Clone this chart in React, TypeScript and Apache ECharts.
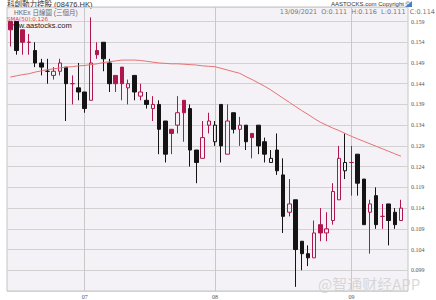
import React, { useEffect, useRef } from 'react';
import * as echarts from 'echarts';

const dates = [
  '2021-06-15', '2021-06-16', '2021-06-17', '2021-06-18', '2021-06-21', '2021-06-22', '2021-06-23', '2021-06-24', '2021-06-25', '2021-06-28', '2021-06-29', '2021-06-30',
  '2021-07-02', '2021-07-05', '2021-07-06', '2021-07-07', '2021-07-08', '2021-07-09', '2021-07-12', '2021-07-13', '2021-07-14', '2021-07-15', '2021-07-16', '2021-07-19', '2021-07-20', '2021-07-21', '2021-07-22', '2021-07-23', '2021-07-26', '2021-07-27', '2021-07-28', '2021-07-29', '2021-07-30',
  '2021-08-02', '2021-08-03', '2021-08-04', '2021-08-05', '2021-08-06', '2021-08-09', '2021-08-10', '2021-08-11', '2021-08-12', '2021-08-13', '2021-08-16', '2021-08-17', '2021-08-18', '2021-08-19', '2021-08-20', '2021-08-23', '2021-08-24', '2021-08-25', '2021-08-26', '2021-08-27', '2021-08-30', '2021-08-31',
  '2021-09-01', '2021-09-02', '2021-09-03', '2021-09-06', '2021-09-07', '2021-09-08', '2021-09-09', '2021-09-10', '2021-09-13',
];

const openP = [
  0.159, 0.159, 0.157, 0.154, 0.152, 0.149, 0.147, 0.146, 0.147, 0.148, 0.144, 0.143,
  0.142, 0.140, 0.152, 0.154, 0.149, 0.146, 0.148, 0.143, 0.146, 0.141, 0.140, 0.138, 0.139, 0.135, 0.133, 0.134, 0.140, 0.138, 0.128, 0.126, 0.134,
  0.130, 0.139, 0.127, 0.137, 0.133, 0.134, 0.132, 0.134, 0.130, 0.125, 0.128, 0.122, 0.113, 0.116, 0.106, 0.103, 0.102, 0.110, 0.108, 0.111, 0.116, 0.123,
  0.125, 0.127, 0.121, 0.113, 0.117, 0.112, 0.115, 0.113, 0.111,
];
const closeP = [
  0.157, 0.152, 0.154, 0.154, 0.149, 0.148, 0.147, 0.147, 0.149, 0.144, 0.144, 0.142,
  0.138, 0.149, 0.151, 0.150, 0.144, 0.144, 0.144, 0.144, 0.142, 0.142, 0.139, 0.139, 0.133, 0.127, 0.132, 0.137, 0.137, 0.128, 0.125, 0.131, 0.135,
  0.134, 0.129, 0.135, 0.133, 0.134, 0.130, 0.131, 0.129, 0.127, 0.126, 0.123, 0.112, 0.115, 0.104, 0.103, 0.102, 0.108, 0.108, 0.109, 0.118, 0.126, 0.125,
  0.125, 0.120, 0.110, 0.115, 0.110, 0.112, 0.111, 0.110, 0.114,
];
const lowP = [
  0.153, 0.151, 0.151, 0.151, 0.148, 0.146, 0.144, 0.145, 0.146, 0.135, 0.139, 0.140,
  0.137, 0.140, 0.150, 0.147, 0.142, 0.142, 0.140, 0.139, 0.140, 0.140, 0.138, 0.135, 0.127, 0.125, 0.127, 0.132, 0.130, 0.124, 0.120, 0.126, 0.132,
  0.129, 0.125, 0.127, 0.132, 0.129, 0.128, 0.126, 0.127, 0.125, 0.125, 0.122, 0.108, 0.112, 0.095, 0.099, 0.100, 0.102, 0.106, 0.106, 0.110, 0.116, 0.121,
  0.117, 0.117, 0.110, 0.103, 0.109, 0.109, 0.105, 0.109, 0.111,
];
const highP = [
  0.159, 0.159, 0.157, 0.156, 0.154, 0.150, 0.150, 0.148, 0.150, 0.148, 0.146, 0.149,
  0.142, 0.160, 0.154, 0.154, 0.150, 0.146, 0.148, 0.145, 0.146, 0.144, 0.142, 0.141, 0.140, 0.135, 0.133, 0.141, 0.140, 0.139, 0.128, 0.135, 0.137,
  0.135, 0.139, 0.139, 0.137, 0.136, 0.134, 0.132, 0.134, 0.131, 0.128, 0.132, 0.126, 0.121, 0.116, 0.106, 0.105, 0.111, 0.114, 0.113, 0.120, 0.129, 0.132,
  0.129, 0.127, 0.121, 0.116, 0.119, 0.115, 0.115, 0.114, 0.116,
];
const sma50 = [
  0.1456, 0.1459, 0.1462, 0.1464, 0.1468, 0.1471, 0.1474, 0.1476, 0.1478, 0.1480, 0.1481, 0.1483,
  0.1484, 0.1486, 0.1488, 0.1491, 0.1493, 0.1495, 0.1497, 0.1497, 0.1497, 0.1496, 0.1494, 0.1492, 0.1490, 0.1489, 0.1488, 0.1488, 0.1487, 0.1486, 0.1485, 0.1483, 0.1482,
  0.1481, 0.1477, 0.1473, 0.1469, 0.1465, 0.1457, 0.1450, 0.1442, 0.1434, 0.1425, 0.1415, 0.1405, 0.1395, 0.1385, 0.1375, 0.1366, 0.1356, 0.1347, 0.1340, 0.1333, 0.1327, 0.1320,
  0.1313, 0.1307, 0.1301, 0.1295, 0.1289, 0.1283, 0.1277, 0.1271, 0.1265,
];
const yTickLabels = ['0.099', '0.104', '0.109', '0.114', '0.119', '0.124', '0.129', '0.134', '0.139', '0.144', '0.149', '0.154', '0.159'];
const monthLabels: Record<string, string> = { '2021-07-02': '07', '2021-08-02': '08', '2021-09-01': '09' };

const UP = '#b0164e';
const DOWN = '#141414';

export default function App() {
  const ref = useRef<HTMLDivElement>(null);
  useEffect(() => {
    if (!ref.current) return;
    const chart = echarts.init(ref.current, undefined, { renderer: 'svg' });
    const candleData = dates.map((d, i) => {
      const o = openP[i];
      const c = closeP[i];
      const col = i === 0 || c >= closeP[i - 1] ? UP : DOWN;
      const fill = c > o ? 'rgba(255,255,255,0)' : col;
      return {
        value: [o, c, lowP[i], highP[i]],
        itemStyle: { color: fill, color0: fill, borderColor: col, borderColor0: col, borderColorDoji: col },
      };
    });
    chart.setOption({
      animation: false,
      backgroundColor: '#ffffff',
      grid: [
        { left: 7, right: 28, top: 7, bottom: 9, show: true, backgroundColor: '#f4f2f6', borderColor: '#c4c4c4', borderWidth: 1 },
        { left: 10.3, right: 35, top: 7, bottom: 9, show: false },
      ],
      xAxis: [
        { gridIndex: 0, type: 'value', min: 0, max: 1, show: false },
        {
          gridIndex: 1, type: 'category', data: dates, boundaryGap: false,
          axisLine: { show: false }, axisTick: { show: false },
          axisLabel: {
            interval: (i: number, v: string) => v in monthLabels,
            formatter: (v: string) => monthLabels[v] ?? '',
            fontSize: 6, color: '#555', margin: 3, fontFamily: 'Liberation Serif',
          },
          splitLine: { show: true, interval: (i: number, v: string) => v in monthLabels, lineStyle: { color: '#c8c8c8', width: 1 } },
        },
      ],
      yAxis: [
        {
          gridIndex: 0, type: 'value', position: 'right', min: -1, max: 12.7, interval: 1,
          axisLine: { show: false }, axisTick: { show: false },
          splitLine: { lineStyle: { color: '#d2d2d2', width: 1 } },
          axisLabel: {
            formatter: (v: number) => yTickLabels[v] ?? '',
            fontSize: 6, color: '#555', margin: 3, fontFamily: 'Liberation Serif',
          },
        },
        { gridIndex: 1, type: 'value', min: 0.094, max: 0.1625, show: false },
      ],
      series: [
        {
          type: 'candlestick', xAxisIndex: 1, yAxisIndex: 1, data: candleData, barWidth: 4, clip: false,
          itemStyle: { borderWidth: 1 },
        },
        {
          type: 'line', xAxisIndex: 1, yAxisIndex: 1, data: sma50, showSymbol: false, symbol: 'none',
          lineStyle: { color: '#e57373', width: 1 }, z: 3,
        },
      ],
      graphic: [
        { type: 'text', left: 7, top: 0.5, style: { text: '科創動力控股 (08476.HK)', font: '7.5px "Liberation Sans", "Noto Sans CJK TC"', fill: '#333' } },
        { type: 'text', left: 14, top: 9.5, style: { text: 'HKEx 日線圖 (三個月)', font: '6.5px "Liberation Sans", "Noto Sans CJK TC"', fill: '#666' } },
        { type: 'text', left: 7, top: 16, style: { text: 'SMA(50):0.126', font: '5.5px "DejaVu Sans"', fill: '#e03a3a' } },
        { type: 'text', left: 8, top: 21.5, style: { text: 'www.aastocks.com', font: '7.5px "Liberation Sans"', fill: '#222' } },
        { type: 'text', right: 26, top: 0.5, style: { text: 'AASTOCKS.com Copyright ©', font: '6px "Liberation Sans"', fill: '#333' } },
        { type: 'polygon', shape: { points: [[405, 7], [412, 7], [412, 1]] }, style: { fill: '#4a7fc8' } },
        { type: 'text', right: 1, top: 8, style: { text: '13/09/2021  O:0.111  H:0.116  L:0.111  C:0.114', font: '6.5px "DejaVu Sans"', fill: '#777' } },
        { type: 'text', left: 318, top: 276, z: 100, style: { text: '@智通财经APP', font: '15px "Noto Sans CJK SC"', fill: 'rgba(205,205,205,0.75)' } },
      ],
    });
    return () => chart.dispose();
  }, []);
  return <div ref={ref} style={{ position: 'fixed', left: 0, top: 0, width: 436, height: 300 }} />;
}
